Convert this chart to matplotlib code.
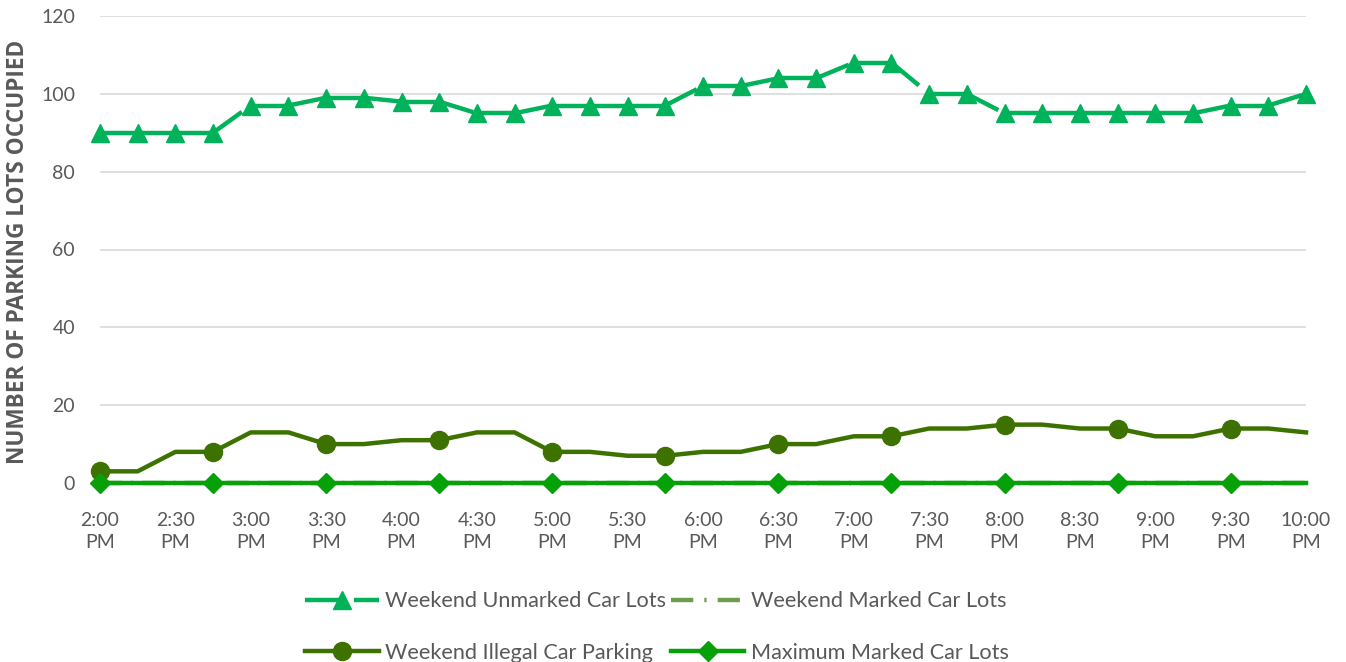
import matplotlib
matplotlib.use("Agg")
import matplotlib.pyplot as plt
from matplotlib.lines import Line2D

plt.rcParams['font.family'] = ['Lato', 'DejaVu Sans']

times = ["2:00 PM", "2:15 PM", "2:30 PM", "2:45 PM", "3:00 PM", "3:15 PM", "3:30 PM", "3:45 PM",
         "4:00 PM", "4:15 PM", "4:30 PM", "4:45 PM", "5:00 PM", "5:15 PM", "5:30 PM", "5:45 PM",
         "6:00 PM", "6:15 PM", "6:30 PM", "6:45 PM", "7:00 PM", "7:15 PM", "7:30 PM", "7:45 PM",
         "8:00 PM", "8:15 PM", "8:30 PM", "8:45 PM", "9:00 PM", "9:15 PM", "9:30 PM", "9:45 PM",
         "10:00 PM"]
unmarked = [90, 90, 90, 90, 97, 97, 99, 99, 98, 98, 95, 95, 97, 97, 97, 97,
            102, 102, 104, 104, 108, 108, 100, 100, 95, 95, 95, 95, 95, 95, 97, 97, 100]
marked = [0] * 33
illegal = [3, 3, 8, 8, 13, 13, 10, 10, 11, 11, 13, 13, 8, 8, 7, 7,
           8, 8, 10, 10, 12, 12, 14, 14, 15, 15, 14, 14, 12, 12, 14, 14, 13]
maximum = [0] * 33

c_unm = '#00B25A'
c_mark = '#6E9E4C'
c_ill = '#3D7200'
c_max = '#06A008'
txt = '#595959'

fig = plt.figure(figsize=(13.46, 6.62), dpi=100)
ax = fig.add_axes([100/1346, 1-483/662, (1306-100)/1346, (483-16)/662])

x = list(range(len(times)))
lw = 3.2
# Weekend Unmarked (long dash, pattern restarting at every point)
for i in range(len(x) - 1):
    ax.plot(x[i:i+2], unmarked[i:i+2], color=c_unm, lw=lw, ls=(0, (8, 3)),
            solid_capstyle='butt', dash_capstyle='butt', zorder=3, clip_on=False)
ax.plot(x, unmarked, ls='none', marker='^', ms=12.5, color=c_unm, zorder=4, clip_on=False)

ax.plot(x, marked, color=c_mark, lw=lw, ls=(0, (5, 2, 0.5, 2)), zorder=2, clip_on=False)
ax.plot(x, illegal, color=c_ill, lw=lw, marker='o', ms=13, markevery=3, zorder=3, clip_on=False)
ax.plot(x, maximum, color=c_max, lw=lw, marker='D', ms=10, markevery=3, zorder=3, clip_on=False)

ax.set_xlim(0, 32)
ax.set_ylim(0, 120)
ax.set_yticks(range(0, 121, 20))
ax.set_xticks(x[::2])
ax.set_xticklabels([t.replace(' ', '\n') for t in times[::2]], linespacing=1.35)
ax.tick_params(axis='both', length=0, labelsize=14, colors=txt)
ax.tick_params(axis='x', pad=21)
ax.tick_params(axis='y', pad=18)
ax.grid(axis='y', color='#D9D9D9', lw=1.2)
ax.set_axisbelow(True)
for s in ax.spines.values():
    s.set_visible(False)

fig.text(18/1346, 1-252/662, 'NUMBER OF PARKING LOTS OCCUPIED', rotation=90,
         ha='center', va='center', fontsize=16.3, fontweight='bold', color=txt,
         family=['Open Sans', 'DejaVu Sans'])

handles = [
    Line2D([], [], color=c_unm, lw=lw, ls=(0, (8, 3)), marker='^', ms=12.5),
    Line2D([], [], color=c_ill, lw=lw, marker='o', ms=13),
    Line2D([], [], color=c_mark, lw=lw, ls=(0, (5, 2.5, 0.5, 2.5))),
    Line2D([], [], color=c_max, lw=lw, marker='D', ms=10),
]
labels = ['Weekend Unmarked Car Lots', 'Weekend Illegal Car Parking',
          'Weekend Marked Car Lots', 'Maximum Marked Car Lots']
leg = fig.legend(handles, labels, ncol=2, loc='center', bbox_to_anchor=(657/1346, 1-627/662),
                 frameon=False, fontsize=15.6, handlelength=3.4, handletextpad=0.3,
                 columnspacing=0.2, labelspacing=1.45, numpoints=1)
for t in leg.get_texts():
    t.set_color(txt)

fig.savefig('out.png', dpi=100)
